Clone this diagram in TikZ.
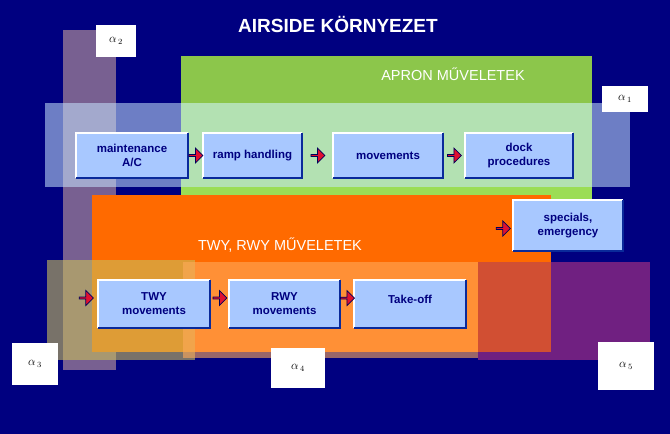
\documentclass[tikz,border=0pt]{standalone}
\usepackage{fontspec}
\setmainfont{Liberation Sans}
\usetikzlibrary{shapes.arrows,calc}
\definecolor{navy}{HTML}{000080}
\definecolor{boxblue}{HTML}{A8C8FF}
\definecolor{edgeblue}{HTML}{0A2A9A}
\definecolor{apron}{HTML}{9BDD55}
\definecolor{aprontop}{RGB}{140,198,75}
\definecolor{twy}{HTML}{FF6A00}
\definecolor{arrred}{HTML}{E01030}
\definecolor{bandtwo}{RGB}{150,120,150}
\definecolor{bandone}{RGB}{200,230,255}
\definecolor{bandthree}{RGB}{200,190,90}
\definecolor{bandfour}{RGB}{255,170,90}
\definecolor{bandfive}{RGB}{140,40,130}
\begin{document}
\begin{tikzpicture}[x=1pt,y=-1pt,
  stepbox/.style={fill=boxblue,inner sep=0pt,align=center,text=navy,
    font=\bfseries\fontsize{11.5}{14}\selectfont},
  redarrow/.style={single arrow,fill=arrred,draw=navy!70!black,line width=0.7pt,
    minimum height=14pt,minimum width=15pt,single arrow head extend=2.5pt,inner sep=0pt},
  alab/.style={fill=white,inner sep=0pt,text=black,font=\large},
  bigtitle/.style={text=white,font=\fontsize{19}{22}\selectfont\bfseries},
  sectitle/.style={text=white,font=\fontsize{14.5}{17}\selectfont}]
\useasboundingbox (0,0) rectangle (670,434);
\fill[navy] (0,0) rectangle (670,434);
\node[bigtitle] (title) at (338,24) {AIRSIDE KÖRNYEZET};
\fill[bandtwo,opacity=0.8] (63,30) rectangle (116,370);
\fill[apron] (181,56) rectangle (592,228);
\fill[aprontop] (181,56) rectangle (592,103);
\node[sectitle] (apront) at (453,74) {APRON MŰVELETEK};
\fill[bandone,opacity=0.55] (45,103) rectangle (630,187);
\fill[twy] (92,195) rectangle (551,352);
\node[sectitle] (twyt) at (280,245) {TWY, RWY MŰVELETEK};
\fill[bandthree,opacity=0.6] (47,260) rectangle (195,360);
\fill[bandfour,opacity=0.6] (183,262) rectangle (478,358);
\fill[bandfive,opacity=0.8] (478,262) rectangle (650,360);
\fill[twy,opacity=0.5] (478,262) rectangle (551,352);
\node[alab,minimum width=40pt,minimum height=32pt] (a2) at (116,41) {$\alpha_{\,2}$};
\node[alab,minimum width=46pt,minimum height=26pt] (a1) at (625,99) {$\alpha_{\,1}$};
\node[alab,minimum width=46pt,minimum height=42pt] (a3) at (35,364) {$\alpha_{\,3}$};
\node[alab,minimum width=54pt,minimum height=40pt] (a4) at (298,368) {$\alpha_{\,4}$};
\node[alab,minimum width=56pt,minimum height=48pt] (a5) at (626,366) {$\alpha_{\,5}$};
\foreach \n/\cx/\cy/\w/\h/\t in {
  mac/132/155.5/112/45/{maintenance\\A/C},
  ramp/252.5/155.5/99/45/{ramp handling},
  mov/388/155.5/110/45/{movements},
  dock/519/155.5/108/45/{dock\\procedures},
  spec/568/225.5/110/51/{specials,\\emergency},
  twym/154/304/112/48/{TWY\\movements},
  rwym/284.5/304/111/48/{RWY\\movements}}{
  \node[stepbox,minimum width=\w pt,minimum height=\h pt] (\n) at (\cx,\cy) {\t};
  \draw[white,line width=1.5pt] (\n.south west) -- (\n.north west) -- (\n.north east);
  \draw[edgeblue,line width=2pt] (\n.north east) -- (\n.south east) -- (\n.south west);
}
\node[stepbox,minimum width=112pt,minimum height=48pt,anchor=north,text depth=0pt] (take) at (410,280) {\raisebox{9pt}{Take-off}};
\draw[white,line width=1.5pt] (take.south west) -- (take.north west) -- (take.north east);
\draw[edgeblue,line width=2pt] (take.north east) -- (take.south east) -- (take.south west);
\node[redarrow] (r1) at ($(mac.east)!0.5!(ramp.west)$) {};
\node[redarrow] (r2) at ($(ramp.east)!0.5!(mov.west)$) {};
\node[redarrow] (r3) at ($(mov.east)!0.5!(dock.west)$) {};
\node[redarrow] (r4) at ($(spec.west)+(-10,3)$) {};
\node[redarrow] (r5) at ($(twym.west)+(-12,-6)$) {};
\node[redarrow] (r6) at ($(twym.east)!0.5!(rwym.west)+(0,-6)$) {};
\node[redarrow] (r7) at ($(rwym.east)!0.5!(take.west)+(0,-6)$) {};
\end{tikzpicture}
\end{document}
